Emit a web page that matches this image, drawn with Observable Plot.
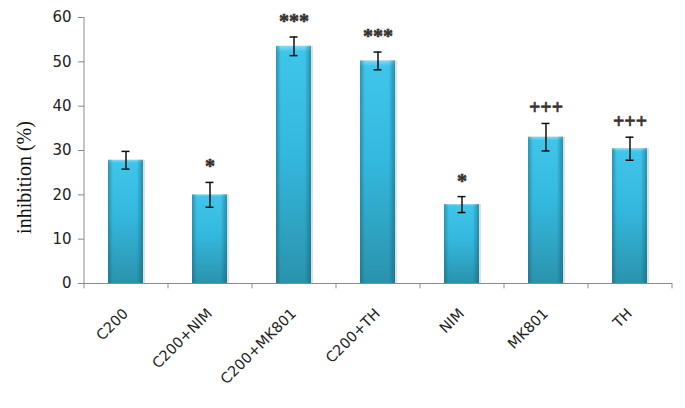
<!DOCTYPE html>
<html>
<head>
<meta charset="utf-8">
<script src="https://cdn.jsdelivr.net/npm/d3@7"></script>
<script src="https://cdn.jsdelivr.net/npm/@observablehq/plot@0.6"></script>
<style>
  html, body { margin: 0; padding: 0; background: #fff; }
</style>
</head>
<body>
<div id="chart"></div>
<script>
const categories = ["C200", "C200+NIM", "C200+MK801", "C200+TH", "NIM", "MK801", "TH"];
const means = [27.8, 20.0, 53.5, 50.2, 17.8, 33.0, 30.4];
const errors = [2.0, 2.8, 2.1, 2.0, 1.8, 3.1, 2.6];
const significance = ["", "*", "***", "***", "*", "+++", "+++"];
const yTicks = [0, 10, 20, 30, 40, 50, 60];
const yLabel = "inhibition (%)";

const data = categories.map((c, i) => ({cat: c, mean: means[i], err: errors[i], sig: significance[i]}));
const sigData = data.filter(d => d.sig);

const step = 84;
const axisGray = "#8a8a8a";

const svg = Plot.plot({
  width: 685,
  height: 408,
  marginLeft: 84,
  marginRight: 13,
  marginTop: 17,
  marginBottom: 125,
  style: {fontFamily: "DejaVu Sans, sans-serif", background: "#fff"},
  x: {type: "band", domain: categories, paddingInner: 0.58, paddingOuter: 0.29, axis: null},
  y: {domain: [0, 60], axis: null},
  marks: [
    // bar shadow
    Plot.barY(data, {x: "cat", y: "mean", fill: "#000", fillOpacity: 0.12, dx: 2}),
    // bars
    Plot.barY(data, {x: "cat", y: "mean", fill: "url(#barV)"}),
    Plot.barY(data, {x: "cat", y: "mean", fill: "url(#barH)"}),
    // y axis
    Plot.axisY({ticks: yTicks, label: null, tickSize: 6, tickPadding: 7, stroke: axisGray, fill: "#222", fontSize: 15, tickFormat: d => d}),
    Plot.ruleX([categories[0]], {x: d => d, y1: 0, y2: 60, dx: -step / 2, stroke: axisGray}),
    // x axis line and boundary ticks
    Plot.ruleY([0], {stroke: axisGray}),
    Plot.ruleX(categories, {x: d => d, y1: 0, y2: -1.2, dx: -step / 2, stroke: axisGray}),
    Plot.ruleX([categories[categories.length - 1]], {x: d => d, y1: 0, y2: -1.2, dx: step / 2, stroke: axisGray}),
    // x labels
    Plot.text(categories, {x: d => d, frameAnchor: "bottom", text: d => d, rotate: -45, textAnchor: "end", dx: 3, dy: 31, fontSize: 14.5, fill: "#222"}),
    // error bars
    Plot.ruleX(data, {x: "cat", y1: d => d.mean - d.err, y2: d => d.mean + d.err, stroke: "#111", strokeWidth: 1.5}),
    Plot.tickY(data, {x: "cat", y: d => d.mean + d.err, stroke: "#111", strokeWidth: 1.5, insetLeft: 13.5, insetRight: 13.5}),
    Plot.tickY(data, {x: "cat", y: d => d.mean - d.err, stroke: "#111", strokeWidth: 1.5, insetLeft: 13.5, insetRight: 13.5}),
    // significance labels
    Plot.text(sigData, {x: "cat", y: d => d.mean + d.err, text: "sig", lineAnchor: "bottom", dy: -9, fontFamily: "Liberation Serif, serif", fontWeight: "bold", fontSize: 20, fill: "#3a3030", stroke: "#3a3030", strokeWidth: 0.6})
    ,
    // y title
    Plot.text([yLabel], {frameAnchor: "left", text: d => d, rotate: -90, textAnchor: "middle", dx: -60, dy: 27, fontFamily: "Liberation Serif, serif", fontSize: 20, fill: "#111"})
  ]
});

const defs = d3.select(svg).insert("defs", ":first-child");
const gv = defs.append("linearGradient").attr("id", "barV").attr("x1", 0).attr("y1", 0).attr("x2", 0).attr("y2", 1);
[["0%", "#86daf1"], ["2.5%", "#3fc4ea"], ["45%", "#34b8de"], ["100%", "#2a93ad"]].forEach(([o, c]) =>
  gv.append("stop").attr("offset", o).attr("stop-color", c));
const gh = defs.append("linearGradient").attr("id", "barH").attr("x1", 0).attr("y1", 0).attr("x2", 1).attr("y2", 0);
[["0%", "#0d5a6e", 0.45], ["14%", "#0d5a6e", 0], ["82%", "#0d5a6e", 0], ["100%", "#0d5a6e", 0.5]].forEach(([o, c, a]) =>
  gh.append("stop").attr("offset", o).attr("stop-color", c).attr("stop-opacity", a));

document.getElementById("chart").appendChild(svg);
</script>
</body>
</html>
